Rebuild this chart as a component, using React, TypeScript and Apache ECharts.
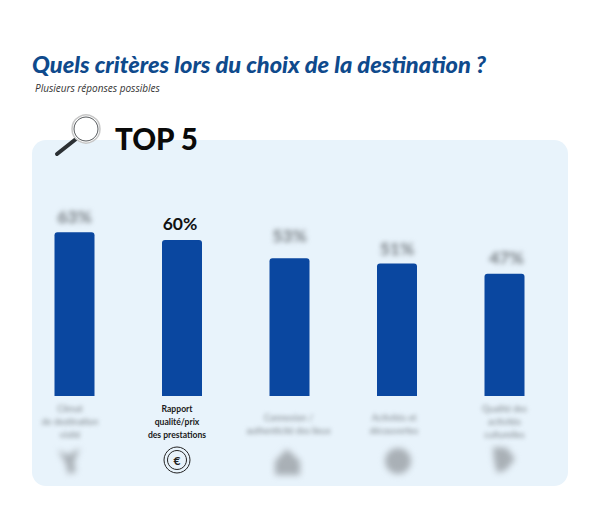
import React, { useEffect, useRef } from "react";
import * as echarts from "echarts";

const titleText = "Quels critères lors du choix de la destination ?";
const subtitleText = "Plusieurs réponses possibles";
const topText = "TOP 5";
const categories = [
  "Climat\nde destination\nvisité",
  "Rapport\nqualité/prix\ndes prestations",
  "Connexion /\nauthenticité des lieux",
  "Activités et\ndécouvertes",
  "Qualité des\nactivités\nculturelles",
];
const values = [63, 60, 53, 51, 47];
const valueLabels = ["63%", "60%", "53%", "51%", "47%"];
const highlighted = 1;

// label placement tweaks (style only)
const categoryShift = [4.5, 5, 1, 3, 0];
const valueOffsets = [[0, 1], [-2, 0], [0, -6], [0, 2], [2, 1]];

const BLUR_VALUE = "#72787d";
const BLUR_GREY = "#7f868b";
const BLUR_ICON = "#a9b0b6";

const rich: Record<string, any> = { sp: { fontSize: 6, lineHeight: 9 } };
categories.forEach((_, i) => {
  rich[`c${i}`] = {
    fontFamily: "Lato",
    fontWeight: i === highlighted ? 700 : 400,
    fontSize: i === highlighted ? 8.6 : 9,
    lineHeight: 13,
    color: i === highlighted ? "#1a1a1a" : BLUR_GREY,
    align: "center",
    padding: [0, categoryShift[i] * 2, 0, 0],
  };
});

export default function App() {
  const ref = useRef<HTMLDivElement>(null);
  useEffect(() => {
    const chart = echarts.init(ref.current!, undefined, { renderer: "svg" });
    chart.setOption({
      animation: false,
      backgroundColor: "#ffffff",
      grid: { left: 20.75, width: 537.5, top: 136, bottom: 118 },
      xAxis: {
        type: "category",
        data: categories,
        axisLine: { show: false },
        axisTick: { show: false },
        axisLabel: {
          interval: 0,
          margin: 6,
          verticalAlign: "top",
          formatter: (v: string) => {
            const i = categories.indexOf(v);
            const lines = v.split("\n");
            const body = lines.map((l) => `{c${i}|${l}}`).join("\n");
            return lines.length === 2 ? `{sp| }\n${body}` : body;
          },
          rich,
        },
      },
      yAxis: { type: "value", min: 0, max: 100, show: false, splitLine: { show: false } },
      series: [
        {
          type: "bar",
          barWidth: 40,
          data: values.map((v, i) => ({
            value: v,
            label: {
              show: true,
              position: "top",
              distance: 8,
              offset: valueOffsets[i],
              formatter: valueLabels[i],
              fontFamily: "Lato",
              fontWeight: 700,
              fontSize: 17.5,
              color: i === highlighted ? "#111111" : BLUR_VALUE,
            },
          })),
          itemStyle: { color: "#0a47a0", borderRadius: [3, 3, 0, 0] },
        },
      ],
      graphic: [
        { type: "rect", z: -10, shape: { x: 32, y: 140, width: 536, height: 346, r: 14 }, style: { fill: "#e8f3fb" } },
        { type: "text", x: 32, y: 52, style: { text: titleText, font: "italic 900 23.6px Lato", fill: "#0f4a8c" } },
        { type: "text", x: 35, y: 83, style: { text: subtitleText, font: "italic 400 10px 'Open Sans'", fill: "#333333" } },
        { type: "text", x: 115, y: 123, style: { text: topText, font: "900 29.5px Lato", fill: "#0a0a0a" } },
        // magnifier
        { type: "line", shape: { x1: 76, y1: 139, x2: 57, y2: 154 }, style: { stroke: "#2b3034", lineWidth: 4, lineCap: "round" } },
        { type: "circle", shape: { cx: 86, cy: 129, r: 14 }, style: { fill: "#ffffff", stroke: "#c8c8c8", lineWidth: 1.5 } },
        { type: "circle", shape: { cx: 86, cy: 129, r: 12 }, style: { fill: "#ffffff", stroke: "#55595c", lineWidth: 1 } },
        // highlighted euro icon
        { type: "circle", shape: { cx: 177, cy: 460, r: 13 }, style: { fill: "none", stroke: "#222222", lineWidth: 1 } },
        { type: "circle", shape: { cx: 177, cy: 460, r: 9.5 }, style: { fill: "none", stroke: "#222222", lineWidth: 1 } },
        { type: "text", x: 177, y: 460, style: { text: "€", font: "700 12px Lato", fill: "#222222", align: "center", verticalAlign: "middle" } },
        // blurred icons
        { type: "polygon", shape: { points: [[58, 450], [68, 455], [80, 448], [74, 462], [76, 472], [68, 474], [66, 464]] }, style: { fill: BLUR_ICON } },
        { type: "polygon", shape: { points: [[287, 449], [300, 461], [300, 475], [275, 475], [275, 461]] }, style: { fill: BLUR_ICON } },
        { type: "circle", shape: { cx: 398, cy: 461, r: 13 }, style: { fill: BLUR_ICON } },
        { type: "polygon", shape: { points: [[493, 447], [507, 448], [515, 459], [506, 470], [497, 473], [494, 460]] }, style: { fill: BLUR_ICON } },
      ],
    });
    const norm = (hex: string) => {
      const n = parseInt(hex.slice(1), 16);
      return `rgb(${n >> 16},${(n >> 8) & 255},${n & 255})`;
    };
    const blurs: Record<string, string> = {
      [BLUR_VALUE]: "blur(2.6px)",
      [BLUR_GREY]: "blur(2px)",
      [BLUR_ICON]: "blur(3.2px)",
    };
    const svg = ref.current!.querySelector("svg");
    if (svg) {
      svg.querySelectorAll("text, path").forEach((el) => {
        const fill = (el.getAttribute("fill") || (el as HTMLElement).style.fill || "").toLowerCase().replace(/\s/g, "");
        for (const key of Object.keys(blurs)) {
          if (fill === key || fill === norm(key)) (el as HTMLElement).style.filter = blurs[key];
        }
      });
    }
    return () => chart.dispose();
  }, []);
  return <div ref={ref} style={{ position: "absolute", left: 0, top: 0, width: 600, height: 514 }} />;
}
